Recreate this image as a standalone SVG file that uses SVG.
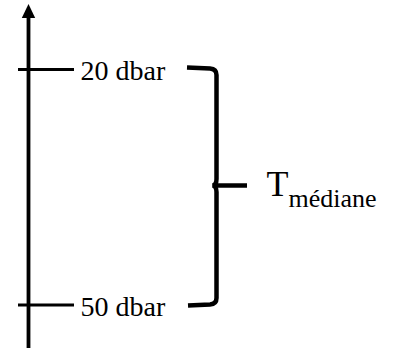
<svg xmlns="http://www.w3.org/2000/svg" width="403" height="349" viewBox="0 0 403 349">
<style>
.ln{stroke:#000;fill:none;stroke-linecap:butt}
.tx{font-family:"Liberation Serif","Times New Roman",serif;fill:#000}
</style>
<defs>
<marker id="ah" markerUnits="userSpaceOnUse" markerWidth="15" markerHeight="15" viewBox="0 0 15 15" refX="0" refY="7.5" orient="auto">
<path d="M0,0.8 L14,7.5 L0,14.2 Z" fill="#000"/>
</marker>
</defs>
<rect width="403" height="349" fill="#fff"/>
<g id="connectors">
<line class="ln" x1="28.5" y1="348" x2="28.5" y2="18" stroke-width="3.8" marker-end="url(#ah)"/>
<line class="ln" x1="18" y1="69.5" x2="74" y2="69.5" stroke-width="3"/>
<line class="ln" x1="18" y1="305" x2="74" y2="305" stroke-width="3"/>
</g>
<g id="brace">
<path class="ln" stroke-width="4.5" d="M187,67.5 L210,68.5 Q216.5,69 216.5,75 L216.5,179 Q216.5,185 212.5,185.5 Q216.5,186 216.5,192 L216.5,298 Q216.5,304 210,304.5 L188,305.5"/>
<line class="ln" x1="214" y1="185.5" x2="247" y2="185.5" stroke-width="4.5"/>
</g>
<g id="label-20">
<text class="tx" x="80.5" y="80" font-size="28">20 dbar</text>
</g>
<g id="label-50">
<text class="tx" x="80.5" y="316" font-size="28">50 dbar</text>
</g>
<g id="label-T">
<text class="tx" x="266.5" y="196" font-size="36">T<tspan font-size="26" dy="10.5">médiane</tspan></text>
</g>
</svg>
